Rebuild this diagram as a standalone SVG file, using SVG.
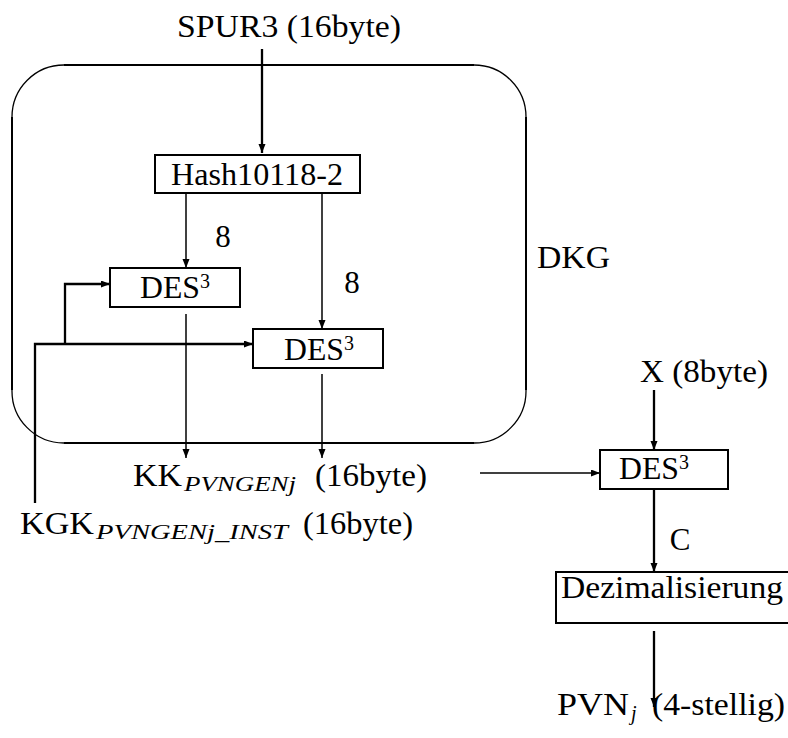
<svg xmlns="http://www.w3.org/2000/svg" width="788" height="738" viewBox="0 0 788 738">
<style>
.t{font-family:"Liberation Serif","Times New Roman",serif;font-size:31px;fill:#000}
.sub{font-style:italic;font-size:20px}
.sup{font-size:20px}
.box{fill:#fff;stroke:#000;stroke-width:2}
.frame{fill:none;stroke:#000;stroke-width:2}
.arc{fill:none;stroke:#000;stroke-width:1.3}
.thin{fill:none;stroke:#000;stroke-width:1.5}
.thick{fill:none;stroke:#000;stroke-width:2.3}
</style>
<defs>
<marker id="ah" markerUnits="userSpaceOnUse" markerWidth="10" markerHeight="8" refX="9" refY="3.5" orient="auto">
<path d="M0,0 L9,3.5 L0,7 z" fill="#000"/>
</marker>
</defs>

<g id="dkg-frame">
<path class="frame" d="M12,117 V390 M526,117 V390 M64,65 H474 M64,443 H474"/>
<path class="arc" d="M12,117 A52,52 0 0 1 64,65 M474,65 A52,52 0 0 1 526,117 M526,390 A52,52 0 0 1 474,443 M64,443 A52,52 0 0 1 12,390"/>
<text class="t" x="537" y="268" textLength="73" lengthAdjust="spacingAndGlyphs">DKG</text>
</g>

<g id="connectors">
<line class="thick" x1="262" y1="49" x2="262" y2="153" marker-end="url(#ah)"/>
<line class="thin" x1="186" y1="193" x2="186" y2="268" marker-end="url(#ah)"/>
<line class="thin" x1="322" y1="193" x2="322" y2="329" marker-end="url(#ah)"/>
<line class="thin" x1="186" y1="314" x2="186" y2="458" marker-end="url(#ah)"/>
<line class="thin" x1="322" y1="374" x2="322" y2="458" marker-end="url(#ah)"/>
<path class="thick" d="M35,503 V344 H253" marker-end="url(#ah)"/>
<path class="thick" d="M65,344 V284 H110" marker-end="url(#ah)"/>
<line class="thin" x1="480" y1="473" x2="600" y2="473" marker-end="url(#ah)"/>
<line class="thick" x1="654" y1="390" x2="654" y2="450" marker-end="url(#ah)"/>
<line class="thick" x1="654" y1="489" x2="654" y2="572" marker-end="url(#ah)"/>
<line class="thick" x1="654" y1="631" x2="654" y2="707" marker-end="url(#ah)"/>
</g>

<g id="labels">
<text class="t" x="223" y="247" text-anchor="middle">8</text>
<text class="t" x="352" y="293" text-anchor="middle">8</text>
<text class="t" x="680" y="550" text-anchor="middle">C</text>
</g>

<g id="spur3">
<text class="t" x="177" y="37" textLength="224" lengthAdjust="spacingAndGlyphs">SPUR3 (16byte)</text>
</g>

<g id="hash">
<rect class="box" x="155" y="155" width="205" height="38"/>
<text class="t" x="171" y="185" textLength="172" lengthAdjust="spacingAndGlyphs">Hash10118-2</text>
</g>

<g id="des1">
<rect class="box" x="110" y="268" width="130" height="39"/>
<text class="t" x="140" y="298"><tspan textLength="60" lengthAdjust="spacingAndGlyphs">DES</tspan><tspan class="sup" dy="-10">3</tspan></text>
</g>

<g id="des2">
<rect class="box" x="253" y="329" width="130" height="39"/>
<text class="t" x="284" y="360"><tspan textLength="60" lengthAdjust="spacingAndGlyphs">DES</tspan><tspan class="sup" dy="-10">3</tspan></text>
</g>

<g id="kk">
<text class="t" x="133" y="486"><tspan textLength="49" lengthAdjust="spacingAndGlyphs">KK</tspan><tspan class="sub" x="184" dy="5" textLength="112" lengthAdjust="spacingAndGlyphs">PVNGENj</tspan><tspan x="315" dy="-5" textLength="112" lengthAdjust="spacingAndGlyphs">(16byte)</tspan></text>
</g>

<g id="kgk">
<text class="t" x="20" y="534"><tspan textLength="74" lengthAdjust="spacingAndGlyphs">KGK</tspan><tspan class="sub" x="96" dy="5" textLength="192" lengthAdjust="spacingAndGlyphs">PVNGENj_INST</tspan><tspan x="303" dy="-5" textLength="110" lengthAdjust="spacingAndGlyphs">(16byte)</tspan></text>
</g>

<g id="x-input">
<text class="t" x="640" y="382" textLength="128" lengthAdjust="spacingAndGlyphs">X (8byte)</text>
</g>

<g id="des3">
<rect class="box" x="600" y="450" width="128" height="39"/>
<text class="t" x="619" y="479"><tspan textLength="60" lengthAdjust="spacingAndGlyphs">DES</tspan><tspan class="sup" dy="-10">3</tspan></text>
</g>

<g id="dezimal">
<rect class="box" x="556" y="572" width="236" height="51"/>
<text class="t" x="561" y="598" textLength="222" lengthAdjust="spacingAndGlyphs">Dezimalisierung</text>
</g>

<g id="pvn">
<text class="t" x="557" y="715"><tspan textLength="72" lengthAdjust="spacingAndGlyphs">PVN</tspan><tspan class="sub" x="631" dy="5">j</tspan><tspan x="652" dy="-5" textLength="133" lengthAdjust="spacingAndGlyphs">(4-stellig)</tspan></text>
</g>
</svg>
